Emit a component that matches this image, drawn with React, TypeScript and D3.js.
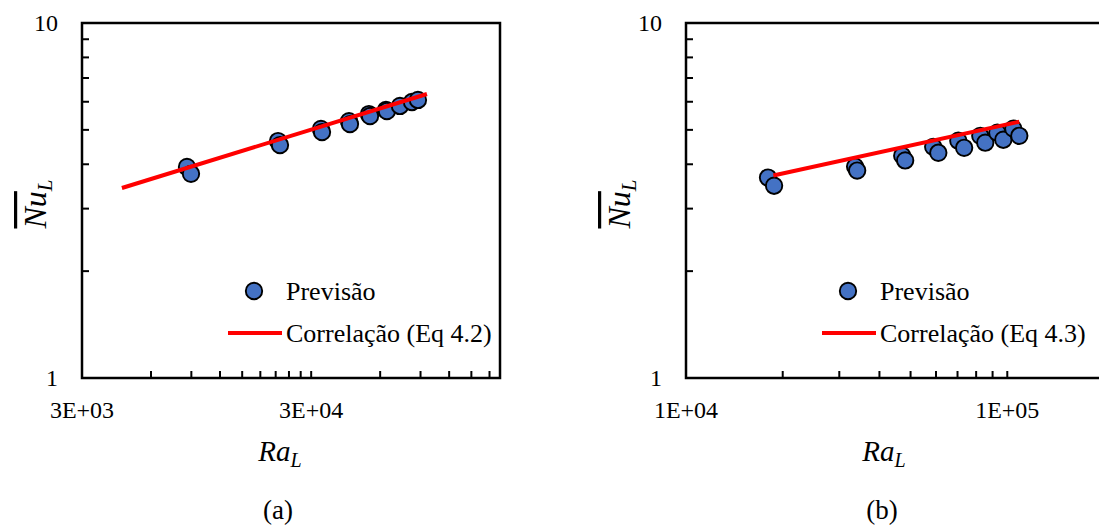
import React from "react";
import * as d3 from "d3";

// ---------- data ----------
// Panel (a)
const raA = [8614, 8968, 21500, 21930, 33100, 33450, 43870, 44300, 53600, 54200, 63600, 64200, 73200, 82600, 87700];
const nuA = [3.93, 3.76, 4.65, 4.53, 5.03, 4.93, 5.29, 5.19, 5.54, 5.47, 5.69, 5.65, 5.84, 5.99, 6.07];
const corrRaA = [4480, 96000];
const corrNuA = [3.43, 6.31];
const xTickValsA = [3000, 30000];
const xTickLabelsA = ["3E+03", "3E+04"];
const xDomainA = [3000, 200000];

// Panel (b)
const raB = [18000, 18800, 33600, 34100, 47100, 48100, 58800, 61000, 70400, 73400, 82400, 85400, 93100, 97200, 104400, 109000];
const nuB = [3.67, 3.48, 3.94, 3.84, 4.23, 4.10, 4.48, 4.31, 4.66, 4.45, 4.81, 4.60, 4.91, 4.69, 5.04, 4.81];
const corrRaB = [18700, 109000];
const corrNuB = [3.72, 5.27];
const xTickValsB = [10000, 100000];
const xTickLabelsB = ["1E+04", "1E+05"];
const xDomainB = [10000, 200000];

const yDomain = [1, 10];
const yTickLabels = ["1", "10"];
const yMinor = [2, 3, 4, 5, 6, 7, 8, 9];

const legendPoints = "Previsão";
const legendLineA = "Correlação (Eq 4.2)";
const legendLineB = "Correlação (Eq 4.3)";
const panelLabels = ["(a)", "(b)"];

const SERIF = '"Liberation Serif", "Times New Roman", Tinos, "DejaVu Serif", serif';
const MATH = '"Liberation Serif", "DejaVu Serif", serif';
const BLUE = "#4472C4";

function Panel(props) {
  const { x0, x1, ra, nu, cRa, cNu, xDomain, tickVals, tickLabels, legendText, label, titleX, legOff } = props;
  const top = 23;
  const bottom = 378;
  const x = d3.scaleLog().domain(xDomain).range([x0, x1]);
  const y = d3.scaleLog().domain(yDomain).range([bottom, top]);

  const minor = [];
  tickVals.forEach((s) => {
    for (let k = 1; k <= 9; k++) {
      const v = s * k;
      if (v > xDomain[0] && v < xDomain[1]) minor.push(v);
    }
  });

  const line = d3
    .line()
    .x((d) => x(d[0]))
    .y((d) => y(d[1]));
  const corr = cRa.map((r, i) => [r, cNu[i]]);

  const cx = (x0 + x1) / 2 - 11;
  const legX = x0 + legOff;
  const serif = { fontFamily: SERIF };
  const math = { fontFamily: MATH, fontStyle: "italic" };

  return (
    <g>
      {yMinor.map((v) => (
        <line key={"y" + v} x1={x0} x2={x0 + 7} y1={y(v)} y2={y(v)} stroke="#000" strokeWidth={2} />
      ))}
      {minor.map((v) => (
        <line key={"x" + v} x1={x(v)} x2={x(v)} y1={bottom} y2={bottom - 7} stroke="#000" strokeWidth={2} />
      ))}
      <rect x={x0} y={top} width={x1 - x0} height={bottom - top} fill="none" stroke="#000" strokeWidth={2.5} />

      {yDomain.map((v, i) => (
        <text key={"yl" + v} x={x0 - 24} y={y(v)} dy="0.35em" textAnchor="end" style={serif} fontSize={24}>
          {yTickLabels[i]}
        </text>
      ))}
      {tickVals.map((v, i) => (
        <text key={"xl" + v} x={x(v)} y={410} dy="0.35em" textAnchor="middle" style={serif} fontSize={24}>
          {tickLabels[i]}
        </text>
      ))}

      {ra.map((r, i) => (
        <circle key={"p" + i} cx={x(r)} cy={y(nu[i])} r={8.2} fill={BLUE} stroke="#000" strokeWidth={1.9} />
      ))}
      <path d={line(corr)} fill="none" stroke="#FF0000" strokeWidth={4} />

      <circle cx={legX - 32} cy={291} r={8.2} fill={BLUE} stroke="#000" strokeWidth={1.9} />
      <text x={legX} y={291} dy="0.33em" style={serif} fontSize={26}>
        {legendPoints}
      </text>
      <line x1={legX - 58} x2={legX - 4} y1={333} y2={333} stroke="#FF0000" strokeWidth={4} />
      <text x={legX} y={333} dy="0.33em" style={serif} fontSize={26}>
        {legendText}
      </text>

      <text x={cx} y={461} textAnchor="middle" style={math} fontSize={29}>
        Ra
        <tspan fontSize={20} dy={6}>L</tspan>
      </text>
      <g transform={`translate(${titleX},204) rotate(-90)`}>
        <text x={0} y={0} textAnchor="middle" style={math} fontSize={32}>
          <tspan style={{ textDecoration: "overline" }}>Nu</tspan>
          <tspan fontSize={21} dy={6}>L</tspan>
        </text>
      </g>
      <text x={cx - 2} y={519} textAnchor="middle" style={serif} fontSize={27}>
        {label}
      </text>
    </g>
  );
}

export default function App() {
  return (
    <svg
      width={1099}
      height={527}
      style={{ position: "absolute", left: 0, top: 0, background: "#fff" }}
    >
      <rect x={0} y={0} width={1099} height={527} fill="#fff" />
      <Panel
        x0={82}
        x1={500}
        ra={raA}
        nu={nuA}
        cRa={corrRaA}
        cNu={corrNuA}
        xDomain={xDomainA}
        tickVals={xTickValsA}
        tickLabels={xTickLabelsA}
        legendText={legendLineA}
        label={panelLabels[0]}
        titleX={46}
        legOff={204}
      />
      <Panel
        x0={686}
        x1={1104}
        ra={raB}
        nu={nuB}
        cRa={corrRaB}
        cNu={corrNuB}
        xDomain={xDomainB}
        tickVals={xTickValsB}
        tickLabels={xTickLabelsB}
        legendText={legendLineB}
        label={panelLabels[1]}
        titleX={630}
        legOff={194}
      />
    </svg>
  );
}
